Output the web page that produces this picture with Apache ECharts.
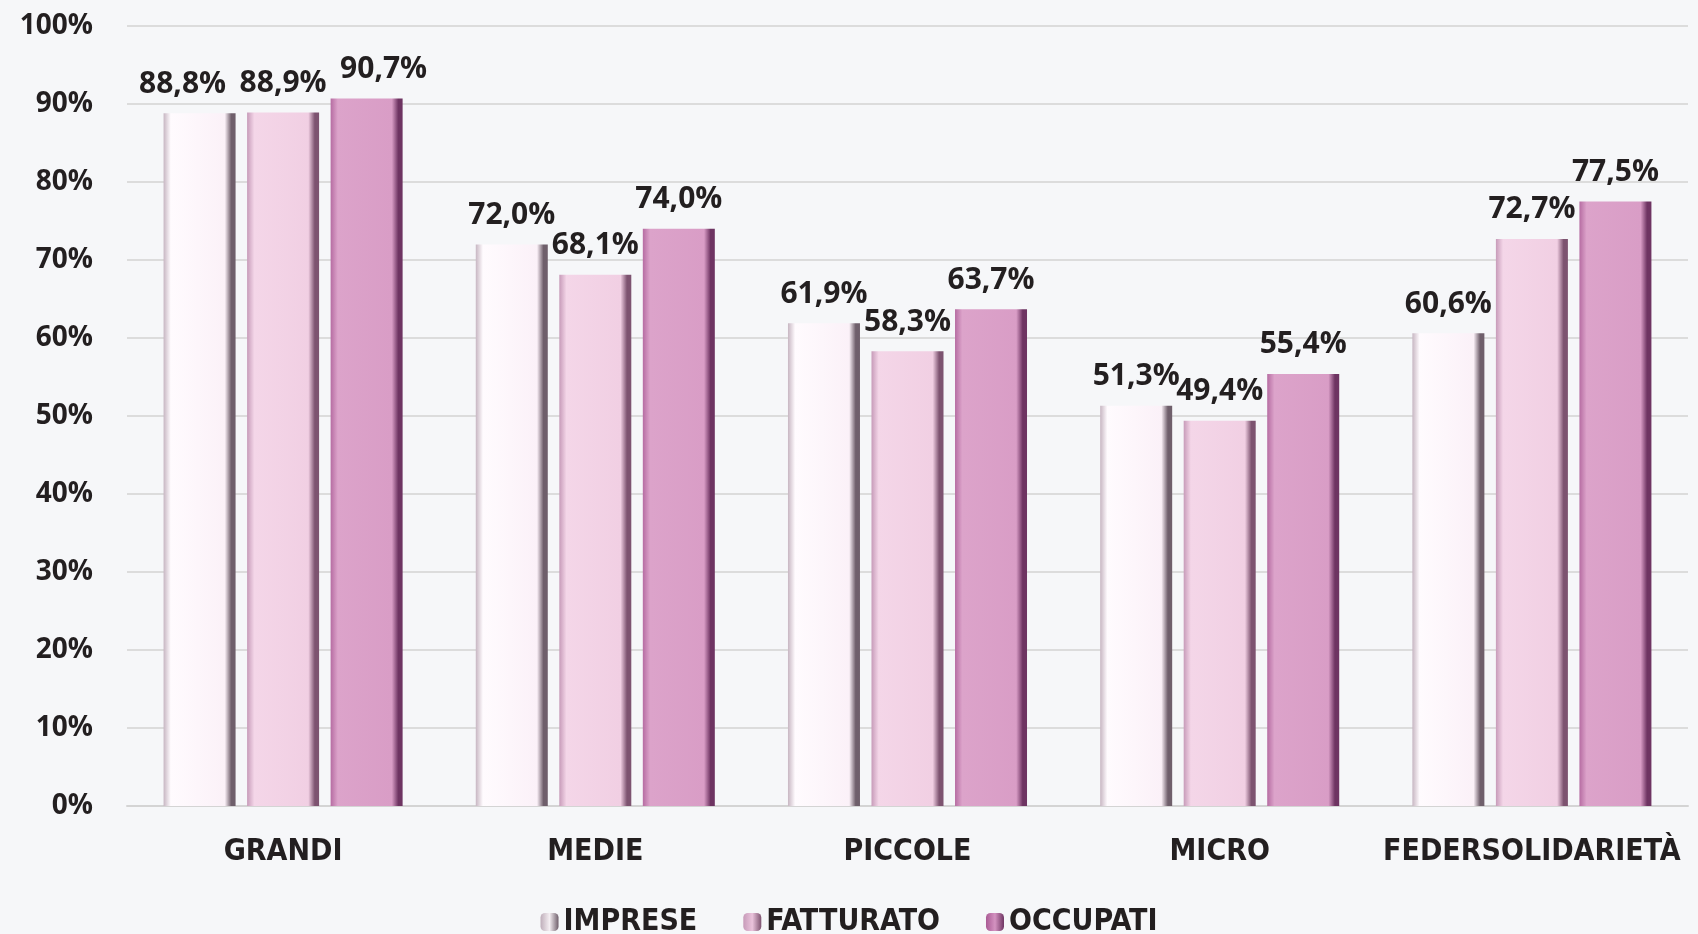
<!DOCTYPE html>
<html>
<head>
<meta charset="utf-8">
<script src="https://cdn.jsdelivr.net/npm/echarts@6/dist/echarts.min.js"></script>
<style>
html,body{margin:0;padding:0;background:#f6f7f9;}
#chart{width:1698px;height:934px;}
</style>
</head>
<body>
<div id="chart"></div>
<script>
const categories = ['GRANDI', 'MEDIE', 'PICCOLE', 'MICRO', 'FEDERSOLIDARIETÀ'];
const seriesNames = ['IMPRESE', 'FATTURATO', 'OCCUPATI'];
const imprese = [88.8, 72.0, 61.9, 51.3, 60.6];
const fatturato = [88.9, 68.1, 58.3, 49.4, 72.7];
const occupati = [90.7, 74.0, 63.7, 55.4, 77.5];
const yTicks = [0, 10, 20, 30, 40, 50, 60, 70, 80, 90, 100];

const grad = (edgeL, main1, main2, edgeR) => new echarts.graphic.LinearGradient(0, 0, 1, 0, [
  {offset: 0, color: edgeL},
  {offset: 0.1, color: main1},
  {offset: 0.85, color: main2},
  {offset: 0.94, color: edgeR},
  {offset: 1, color: edgeR}
]);
const colors = [
  grad('#c7b6c2', '#fffbfe', '#fbf1f8', '#6f5f6b'),
  grad('#c79bb9', '#f4d6e8', '#f1cfe3', '#7d5370'),
  grad('#b66ca2', '#dca3ca', '#d99dc6', '#6e3462')
];
const iconColors = [
  new echarts.graphic.LinearGradient(0, 0, 1, 0, [{offset: 0, color: '#bfaeba'}, {offset: 0.5, color: '#f4eef2'}, {offset: 1, color: '#6f5f6b'}]),
  new echarts.graphic.LinearGradient(0, 0, 1, 0, [{offset: 0, color: '#c79bb9'}, {offset: 0.5, color: '#eac3dc'}, {offset: 1, color: '#7d5370'}]),
  new echarts.graphic.LinearGradient(0, 0, 1, 0, [{offset: 0, color: '#a95a94'}, {offset: 0.5, color: '#d493c1'}, {offset: 1, color: '#6e3462'}])
];
const fontMain = '"Open Sans", "DejaVu Sans", sans-serif';
const fontNarrow = '"Liberation Sans Narrow", "DejaVu Sans Condensed", "Liberation Sans", sans-serif';
const fmt = v => v.toFixed(1).replace('.', ',') + '%';

// label nudges for the first group (as in the original, to avoid overlap)
const firstGroupLabelShift = [-17, 0, 17];

const datasets = [imprese, fatturato, occupati];
const series = datasets.map((d, i) => ({
  name: seriesNames[i],
  type: 'bar',
  data: d.map((v, j) => j === 0 ? {value: v, label: {offset: [firstGroupLabelShift[i], 0]}} : v),
  barWidth: 72,
  barGap: '16%',
  itemStyle: {color: colors[i]},
  label: {
    show: true,
    position: 'top',
    distance: 14,
    formatter: p => fmt(p.value),
    fontFamily: fontMain,
    fontWeight: 'bold',
    fontSize: 30,
    color: '#231f20'
  }
}));

const chart = echarts.init(document.getElementById('chart'));
chart.setOption({
  backgroundColor: '#f6f7f9',
  animation: false,
  grid: {left: 127, right: 10, top: 26, bottom: 128},
  legend: {
    data: seriesNames.map((n, i) => ({name: n, itemStyle: {color: iconColors[i]}})),
    top: 902,
    left: 'center',
    itemWidth: 18,
    itemHeight: 18,
    itemGap: 46,
    textStyle: {fontFamily: fontNarrow, fontWeight: 'bold', fontSize: 30, color: '#231f20'}
  },
  xAxis: {
    type: 'category',
    data: categories,
    axisLine: {lineStyle: {color: '#d4d4d4', width: 2}},
    axisTick: {show: false},
    axisLabel: {interval: 0, margin: 31, fontFamily: fontNarrow, fontWeight: 'bold', fontSize: 30, color: '#231f20'}
  },
  yAxis: {
    type: 'value',
    min: yTicks[0],
    max: yTicks[yTicks.length - 1],
    interval: yTicks[1] - yTicks[0],
    axisLine: {show: false},
    axisTick: {show: false},
    splitLine: {lineStyle: {color: '#dcdcdc', width: 2}},
    axisLabel: {margin: 34, formatter: '{value}%', fontFamily: fontMain, fontWeight: 'bold', fontSize: 28, color: '#231f20'}
  },
  series: series
});
</script>
</body>
</html>
